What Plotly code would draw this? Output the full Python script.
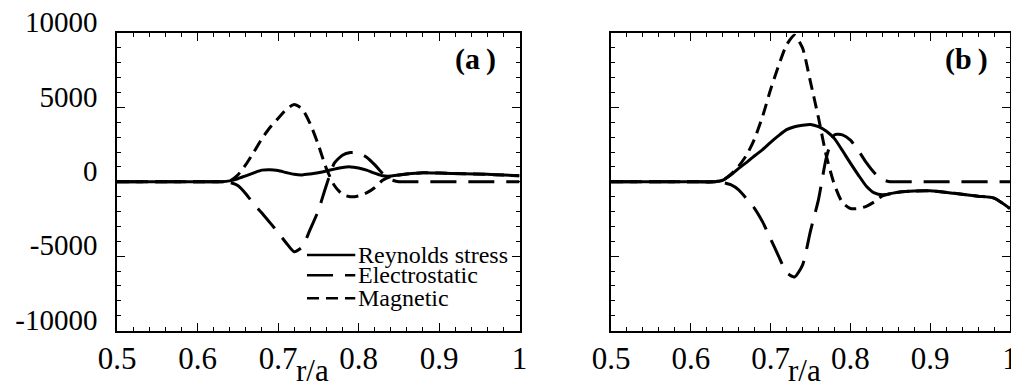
import plotly.graph_objects as go

# ---------------- data ----------------
r_grid = [0.50, 0.60, 0.63, 0.64, 0.65, 0.66, 0.67, 0.68, 0.69, 0.70, 0.71, 0.72, 0.73,
          0.74, 0.75, 0.76, 0.77, 0.78, 0.79, 0.80, 0.81, 0.82, 0.83, 0.84, 0.85, 0.86,
          0.88, 0.90, 0.93, 0.96, 0.98, 1.00]

# panel (a)
reyn_a = [0, 0, 0, 60, 200, 400, 600, 780, 810, 750, 620, 500, 460,
          520, 600, 720, 850, 960, 1000, 920, 780, 580, 400, 380, 450, 520,
          600, 580, 540, 500, 450, 400]
elec_a = [0, 0, 0, -50, -250, -800, -1500, -2100, -2750, -3400, -4100, -4700, -4400,
          -3200, -1950, -250, 1250, 1780, 1960, 1950, 1650, 1150, 550, 150, 0, 0,
          0, 0, 0, 0, 0, 0]
magn_a = [0, 0, 0, 50, 450, 1150, 2000, 2900, 3650, 4250, 4850, 5200, 4900,
          3900, 2500, 900, -250, -850, -1010, -950, -750, -400, 100, 350, 450, 520,
          600, 580, 540, 500, 450, 400]

# panel (b)
reyn_b = [0, 0, 0, 100, 450, 900, 1300, 1750, 2160, 2650, 3100, 3500, 3700,
          3800, 3850, 3700, 3400, 2900, 2100, 1250, 450, -300, -750, -880, -800, -700,
          -620, -610, -780, -970, -1100, -1800]
elec_b = [0, 0, 0, -50, -200, -550, -1150, -1800, -2700, -3840, -5000, -6100, -6400,
          -5600, -3300, -1200, 1650, 3150, 3150, 2800, 2100, 1280, 600, 150, 0, 0,
          0, 0, 0, 0, 0, 0]
magn_b = [0, 0, 0, 100, 500, 1050, 1800, 2900, 4400, 6200, 7800, 9200, 9850,
          9000, 6700, 4300, 1700, -200, -1400, -1800, -1800, -1650, -1350, -950, -800, -700,
          -620, -610, -780, -970, -1100, -1800]

series_names = ["Reynolds stress", "Electrostatic", "Magnetic"]
x_tickvals = [0.5, 0.6, 0.7, 0.8, 0.9, 1.0]
x_ticktext = ["0.5", "0.6", "0.7", "0.8", "0.9", "1"]
y_tickvals = [-10000, -5000, 0, 5000, 10000]
y_ticktext = ["-10000", "-5000", "0", "5000", "10000"]
panel_labels = ["(a\u2009)", "(b\u2009)"]
x_title = "r/a"

# ---------------- styles ----------------
W, H = 1011, 390
FONT = "Liberation Serif, Times New Roman, Times, serif"
dashes = ["solid", "26px,12px", "12px,7px"]
LW = 3

fig = go.Figure()
for xa, ya, vals in [("x", "y", (reyn_a, elec_a, magn_a)), ("x2", "y2", (reyn_b, elec_b, magn_b))]:
    for name, v, d in zip(series_names, vals, dashes):
        fig.add_trace(go.Scatter(x=r_grid, y=v, mode="lines", name=name, xaxis=xa, yaxis=ya,
                                 line=dict(color="black", width=LW, dash=d, shape="spline", smoothing=0.6),
                                 showlegend=False))

xdom1 = [117 / W, 519.5 / W]
xdom2 = [611 / W, 1010 / W]
ydom = [1 - 330.5 / H, 1 - 33 / H]

common_x = dict(range=[0.5, 1.0], tickvals=x_tickvals, ticktext=x_ticktext,
                ticks="inside", ticklen=8, tickwidth=1, tickcolor="black",
                minor=dict(dtick=0.02, tick0=0.5, ticks="inside", ticklen=4, tickwidth=1, tickcolor="black"),
                showline=True, linecolor="black", linewidth=1.5, mirror="allticks",
                showgrid=False, zeroline=False, automargin=False, ticklabeloverflow="allow",
                tickfont=dict(family=FONT, size=31, color="black"))
common_y = dict(range=[-10000, 10000], tickvals=y_tickvals, ticktext=y_ticktext,
                ticks="inside", ticklen=8, tickwidth=1, tickcolor="black",
                minor=dict(dtick=1000, tick0=0, ticks="inside", ticklen=4, tickwidth=1, tickcolor="black"),
                showline=True, linecolor="black", linewidth=1.5, mirror="allticks",
                showgrid=False, zeroline=False, automargin=False,
                tickfont=dict(family=FONT, size=29, color="black"))

fig.update_layout(
    width=W, height=H, margin=dict(l=0, r=0, t=0, b=0),
    paper_bgcolor="white", plot_bgcolor="white", showlegend=False,
    xaxis=dict(common_x, domain=xdom1, anchor="y"),
    yaxis=dict(common_y, domain=ydom, anchor="x", ticklabelshift=-11, ticklabelstandoff=12),
    xaxis2=dict(common_x, domain=xdom2, anchor="y2"),
    yaxis2=dict(common_y, domain=ydom, anchor="x2", showticklabels=False),
)

# panel labels and axis titles
for xr, yr, lab in [("x", "y", panel_labels[0]), ("x2", "y2", panel_labels[1])]:
    fig.add_annotation(x=0.89, y=(330 - 59) / 297, xref=xr + " domain", yref=yr + " domain",
                       xanchor="center", yanchor="middle", text="<b>" + lab + "</b>",
                       showarrow=False, font=dict(family=FONT, size=30, color="black"))
    fig.add_annotation(x=0.743, y=0.0, xref=xr, yref="paper", yanchor="bottom", text=x_title,
                       showarrow=False, font=dict(family=FONT, size=31, color="black"))

# manual legend in panel (a)
leg_y = [-4930, -6280, -7840]
for name, d, yy in zip(series_names, dashes, leg_y):
    fig.add_shape(type="line", xref="x", yref="y", x0=0.736, x1=0.796, y0=yy, y1=yy,
                  line=dict(color="black", width=2.5, dash=d))
    fig.add_annotation(x=0.797, y=yy, xref="x", yref="y", xanchor="left", text=name,
                       showarrow=False, font=dict(family=FONT, size=24, color="black"))

fig.write_html("out.html")
